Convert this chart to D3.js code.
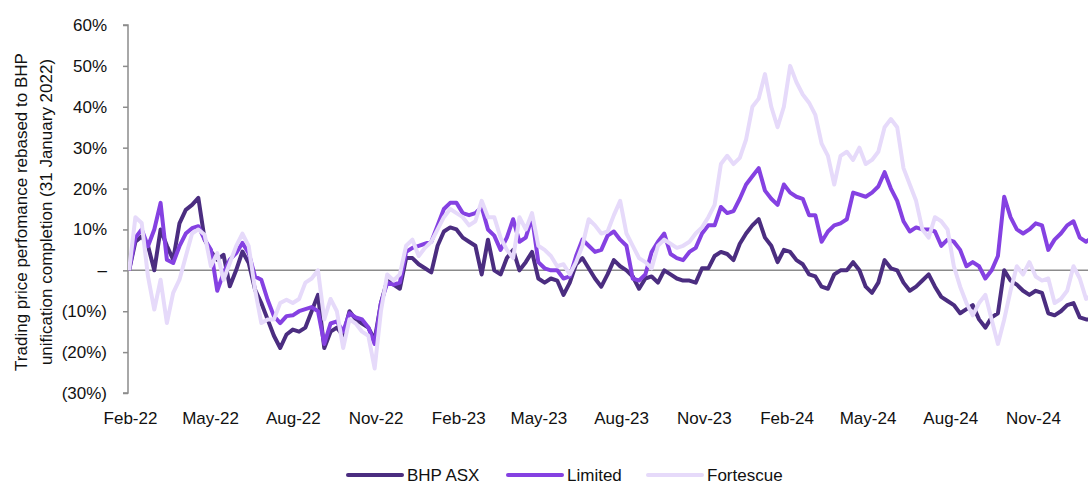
<!DOCTYPE html>
<html>
<head>
<meta charset="utf-8">
<script src="https://cdn.jsdelivr.net/npm/d3@7"></script>
<style>
  html, body { margin: 0; padding: 0; background: #fff; }
  svg { display: block; }
  text { font-family: "Liberation Sans", Arial, sans-serif; fill: #111; }
</style>
</head>
<body>
<svg id="chart" width="1088" height="485"></svg>
<script>
// ---- Data (weekly readings, % change vs 31 Jan 2022) ----
const seriesNames = ["BHP ASX", "Limited", "Fortescue"];
const seriesColors = ["#4B2D80", "#8541E2", "#E6DAFA"];
const startDate = "2022-01-31";
const yTicks = [-30, -20, -10, 0, 10, 20, 30, 40, 50, 60];
const xTickLabels = ["Feb-22","May-22","Aug-22","Nov-22","Feb-23","May-23","Aug-23","Nov-23","Feb-24","May-24","Aug-24","Nov-24"];
const yTitle = ["Trading price perfomance rebased to BHP", "unification completion (31 January 2022)"];

const bhpAsx = [0,7,8.3,6,0,10,6,2.6,11.5,14.8,16,17.7,7.5,4.6,2.6,3.8,-3.9,0,4.6,1.8,
  -4.7,-8,-12,-16,-19,-15.7,-14.5,-15,-14,-10,-6,-19,-15,-14,-16,-10,-12,-13,-14,-17,
  -8,-2.5,-3.5,-4.5,3,3,1.5,0.5,-0.5,6,9.5,10.5,10,8,7,6,-1,7.5,0,-1,
  3,5,0,2,4.5,-2,-3,-2,-2.5,-6,-3,1.5,3,0.5,-2,-4,-1,2.5,1,0,
  -1.5,-4.5,-2,-1.5,-3,0,-1,-2,-2.5,-2.5,-3,0.5,0.5,3.5,4.5,4,2.5,6.5,9,11,
  12.5,8,6,2,5,4.5,2.5,1.5,-1,-1.5,-4,-4.5,-1,0,0,2,0,-4,-5.5,-3,
  2.5,0.5,0,-3,-5,-4,-2.5,-1,-4,-6.5,-7.5,-8.5,-10.5,-9.5,-8.5,-12,-14,-11.5,-10.5,0,
  -2.5,-3.5,-5,-6,-5,-5.5,-10.5,-11,-10,-8.5,-8,-11.5,-12,-12];

const limited = [0,8,10,5.9,10,16.5,2.6,1.8,5.9,9,10.3,10.8,7.5,5,-5,-0.7,2.6,4.2,6.7,4.2,
  -1.5,-2.3,-7.2,-11.2,-12.9,-11.2,-11,-10,-9.5,-9,-10,-18,-13,-12.5,-15,-10.5,-11.5,-12,-14,-18,
  -8,-3,-3.5,-3,4.5,5.5,6,6.5,7,11,15,16.5,16.5,14,13.5,14,15.5,10,8.5,5,
  8,12.5,7,8,13,2,0.5,0,0,-2,-1.5,3.5,7.5,6,4.5,5,8.5,9.5,7.5,6,
  -2,-2.5,-1,4.5,7,9,4,3,2.5,4.5,5.5,9,11,11,15.5,14,14.5,17.5,21,23,
  25,19.5,17.5,16,21,19,18,17.5,13.5,13.5,7,9.5,11,11.5,12.5,19,18.5,18,19,20.5,
  24,20,17,12,9.5,10.5,10,10,9.5,6,7.5,7,5,1,2,1,-2,0,3.5,18,
  13,10,9,10,11.5,11,5,7.5,9,11,12,8,7,8];

const fortescue = [0,13,11.6,-1.5,-9.6,-2.3,-12.9,-5.5,-2.3,3.4,9,10,8.7,1,4.2,-2.3,1.8,5.9,9,5.9,
  -4.7,-12.9,-12,-12,-8,-7.2,-8,-7,-3,-2,0,-12,-7,-10,-19,-12,-13,-15,-16,-24,
  -10,-1,-2.5,-1,6,7.5,3.5,5.5,7,10,13,15,14,13,11,12,17,13,13,8,
  5,3,13,10,14,6,5,3.5,1,1.5,-1,2,6,12.5,11,9,9.5,13.5,17,9,
  6,3,2,0.5,6,7.5,6.5,5.5,6,7,9,10.5,13,16,26,28,26,27.5,32,40,
  42,48,40,35,40,50,46,43,41,38,31,28,21,28,29,27,30,26,27,29,
  35,37,35,25,21,17,10,8,13,12,10,1,-4,-8,-11,-8,-6,-12,-18,-12,
  -5,1,-1,2,-1.5,-2.5,-2,-8,-7,-5,1,-2,-7,-6,-5.5];

// ---- Layout ----
const svg = d3.select("#chart");
const plot = { left: 128, right: 1088, top: 25, bottom: 393 };

const t0 = d3.timeParse("%Y-%m-%d")(startDate);
const dates = bhpAsx.map((_, i) => d3.timeDay.offset(t0, 7 * i));

const x = d3.scaleTime()
  .domain([new Date(2022, 1, 1), new Date(2024, 10, 1)])
  .range([130, 1033]);
const y = d3.scaleLinear().domain([-30, 60]).range([plot.bottom, plot.top]);

// clip
svg.append("defs").append("clipPath").attr("id", "clip")
  .append("rect")
  .attr("x", plot.left).attr("y", 0)
  .attr("width", plot.right - plot.left).attr("height", 485);

// y axis
const yFmt = v => v === 0 ? "–" : (v < 0 ? "(" + Math.abs(v) + "%)" : v + "%");
const yAxis = d3.axisLeft(y).tickValues(yTicks).tickFormat(yFmt).tickSize(5).tickPadding(16);
const gy = svg.append("g").attr("transform", `translate(${plot.left},0)`).call(yAxis);
gy.select(".domain").attr("stroke", "#8c8c8c").attr("stroke-width", 1.5).attr("d", `M-5,${plot.top}H0V${plot.bottom}H-5`);
gy.selectAll(".tick line").attr("stroke", "#8c8c8c").attr("stroke-width", 1.5);
gy.selectAll(".tick text")
  .style("font-family", '"Liberation Sans", Arial, sans-serif')
  .style("font-size", "17px").attr("fill", "#111");

// x axis labels (no axis line)
const xTickDates = xTickLabels.map(s => d3.timeParse("%b-%y")(s));
const xAxis = d3.axisBottom(x).tickValues(xTickDates).tickFormat(d3.timeFormat("%b-%y")).tickSize(0).tickPadding(0);
const gx = svg.append("g").attr("transform", `translate(0,${plot.bottom + 19})`).call(xAxis);
gx.select(".domain").remove();
gx.selectAll(".tick text")
  .style("font-family", '"Liberation Sans", Arial, sans-serif')
  .style("font-size", "17px").attr("fill", "#111");

// zero line
svg.append("line")
  .attr("x1", plot.left).attr("x2", plot.right)
  .attr("y1", y(0)).attr("y2", y(0))
  .attr("stroke", "#8c8c8c").attr("stroke-width", 1.5);

// y title
const yt = svg.append("text")
  .attr("transform", `translate(27,212) rotate(-90)`)
  .attr("text-anchor", "middle")
  .style("font-size", "17px");
yTitle.forEach((line, i) => {
  yt.append("tspan").attr("x", 0).attr("dy", i === 0 ? 0 : "1.47em").text(line);
});

// lines
const allSeries = [bhpAsx, limited, fortescue];
const line = d3.line().x((d, i) => x(dates[i])).y(d => y(d)).curve(d3.curveLinear);
const gLines = svg.append("g").attr("clip-path", "url(#clip)");
allSeries.forEach((vals, k) => {
  gLines.append("path")
    .datum(vals)
    .attr("fill", "none")
    .attr("stroke", seriesColors[k])
    .attr("stroke-width", 4)
    .attr("stroke-linejoin", "round")
    .attr("d", line);
});

// legend
const legendX = [348, 508, 648];
const legend = svg.append("g").attr("transform", "translate(0,475)");
seriesNames.forEach((name, k) => {
  const g = legend.append("g").attr("transform", `translate(${legendX[k]},0)`);
  g.append("line").attr("x1", 0).attr("x2", 54).attr("y1", 0).attr("y2", 0)
    .attr("stroke", seriesColors[k]).attr("stroke-width", 4).attr("stroke-linecap", "round");
  g.append("text").attr("x", 59).attr("y", 6).style("font-size", "17px").text(name);
});
</script>
</body>
</html>
